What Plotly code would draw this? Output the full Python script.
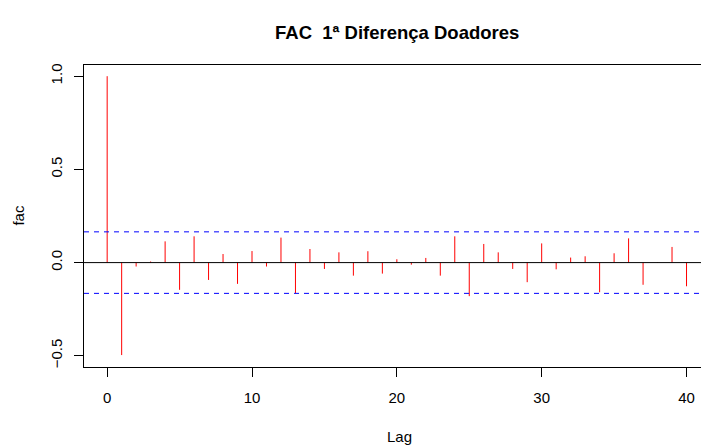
import plotly.graph_objects as go

lags = list(range(0, 41))
fac = [1.0, -0.496, -0.021, 0.006, 0.114, -0.146, 0.141, -0.093, 0.046, -0.114,
       0.062, -0.021, 0.134, -0.164, 0.073, -0.034, 0.055, -0.070, 0.061, -0.059,
       0.018, -0.011, 0.025, -0.070, 0.141, -0.180, 0.100, 0.055, -0.034, -0.105,
       0.103, -0.036, 0.027, 0.034, -0.159, 0.050, 0.130, -0.119, -0.002, 0.084,
       -0.127]
conf = 0.165
x_ticks = [0, 10, 20, 30, 40]
y_ticks = [-0.5, 0.0, 0.5, 1.0]
y_ticktext = ["\u22120.5", "0.0", "0.5", "1.0"]

FONT = "Liberation Sans, Arial, sans-serif"
TICK_SIZE = 15
TITLE_SIZE = 18.5

xs, ys = [], []
for l, v in zip(lags, fac):
    xs += [l, l, None]
    ys += [0, v, None]

fig = go.Figure()
fig.add_trace(go.Scatter(x=xs, y=ys, mode="lines",
                         line=dict(color="red", width=1), hoverinfo="skip",
                         showlegend=False))

fig.add_hline(y=0, line=dict(color="black", width=1))
fig.add_hline(y=conf, line=dict(color="blue", width=1, dash="5px,5px"))
fig.add_hline(y=-conf, line=dict(color="blue", width=1, dash="5px,5px"))

L, T, B = 83.5, 65, 79
W, H = 701, 446
fig.update_layout(
    width=W, height=H,
    margin=dict(l=L, r=0, t=T, b=B, pad=0),
    plot_bgcolor="white", paper_bgcolor="white",
    font=dict(family=FONT, size=TICK_SIZE, color="black"),
    showlegend=False,
    xaxis=dict(range=[-1.6, 41.0], tickvals=x_ticks, ticks="outside", ticklen=9,
               tickcolor="black", showline=True, mirror=True, linecolor="black",
               linewidth=1, showgrid=False, zeroline=False,
               ticklabelstandoff=8, tickfont=dict(size=TICK_SIZE, family=FONT)),
    yaxis=dict(range=[-0.56, 1.06], tickvals=y_ticks, ticktext=y_ticktext,
               ticks="outside", ticklen=9, tickcolor="black", showline=True,
               mirror=False, linecolor="black", linewidth=1, showgrid=False,
               zeroline=False, tickangle=-90, ticklabelstandoff=6,
               tickfont=dict(size=TICK_SIZE, family=FONT)),
)

pw = W - L
ph = H - T - B
fig.add_annotation(text="<b>FAC  1\u00aa Diferen\u00e7a Doadores</b>", xref="paper", yref="paper",
                   x=(397 - L) / pw, y=1 + (T - 32) / ph, showarrow=False,
                   font=dict(size=TITLE_SIZE, family=FONT), xanchor="center", yanchor="middle")
fig.add_annotation(text="Lag", xref="paper", yref="paper",
                   x=(399 - L) / pw, y=-(436 - (H - B)) / ph, showarrow=False,
                   font=dict(size=TICK_SIZE, family=FONT), xanchor="center", yanchor="middle")
fig.add_annotation(text="fac", xref="paper", yref="paper",
                   x=-(L - 17) / pw, y=(H - B - 215) / ph, showarrow=False,
                   textangle=-90, font=dict(size=TICK_SIZE, family=FONT),
                   xanchor="center", yanchor="middle")

fig.write_html("out.html")
